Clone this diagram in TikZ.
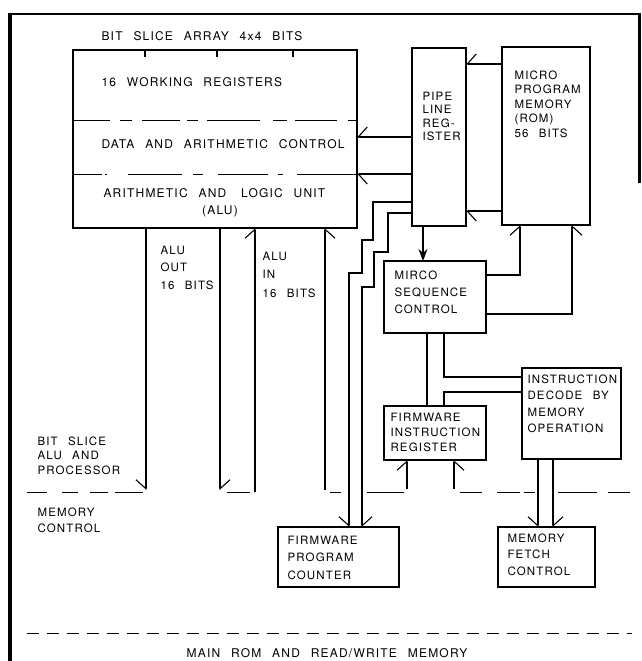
\documentclass[tikz,border=0pt]{standalone}
\usepackage{fontspec}
\setmainfont{TeX Gyre Heros}[LetterSpace=10,WordSpace=2.4]
\usetikzlibrary{arrows.meta}
\begin{document}
\begin{tikzpicture}[x=1pt,y=-1pt,line width=1.1pt,
  box/.style={draw,rectangle,inner sep=0pt,outer sep=0pt},
  lbl/.style={anchor=base west,inner sep=0pt,align=left,font=\fontsize{11.5}{#1}\selectfont},
  lbl/.default=14,
  big/.style={anchor=base west,inner sep=0pt,font=\fontsize{12}{14}\selectfont},
  bL/.style={-{Straight Barb[harpoon,length=9pt,width=20pt]}},
  bR/.style={-{Straight Barb[harpoon,swap,length=9pt,width=20pt]}},
  sep/.style={line width=1pt}
]
\fill[white] (0,0) rectangle (642,661);
\useasboundingbox (0,0) rectangle (642,661);

% boxes
\node[box,minimum width=284pt,minimum height=178pt] (alu) at (215,139) {};
\node[box,minimum width=54pt,minimum height=178pt] (pl) at (439,137) {};
\node[box,minimum width=88pt,minimum height=178pt] (mem) at (546,136) {};
\node[box,minimum width=102pt,minimum height=72pt] (ms) at (435,297) {};
\node[box,minimum width=99pt,minimum height=91pt] (id) at (571.5,413.5) {};
\node[box,minimum width=102pt,minimum height=54pt] (fir) at (435,433) {};
\node[box,minimum width=121pt,minimum height=60pt] (fpc) at (338.5,557) {};
\node[box,minimum width=97pt,minimum height=60pt] (mf) at (546.5,557) {};

% ticks and separators in ALU box
\foreach \x in {145,217,293} \draw (alu.north -| \x,0) -- ++(0,7);
\foreach \a/\b in {73/110,120/132,142/180,187/198,207/260,273/287,295/337,348/357}
  \draw[sep] (\a,120) -- (\b,120);
\foreach \a/\b in {73/102,105/107,128/182,193/203,218/268,278/283,297/357}
  \draw[sep] (\a,174) -- (\b,174);

% dashed boundaries
\foreach \a/\b in {27/47,62/78,90/108,115/143,227/250,330/341,367/404,460/482,497/520,524/535,558/597,608/630}
  \draw[sep] (\a,492) -- (\b,492);
\draw[sep,dash pattern=on 12pt off 8pt] (27,633) -- (632,633);

% connectors
\draw[bR] (mem.west |- 0,64) -- (pl.east |- 0,64);
\draw[bR] (pl.west |- 0,137) -- (alu.east |- 0,137);
\draw[bL] (pl.west |- 0,174) -- (alu.east |- 0,174);
\draw[bL] (mem.west |- 0,211) -- (pl.east |- 0,211);
\draw[-{Stealth[length=12pt,width=9pt]}] (pl.south -| 423,0) -- (ms.north -| 423,0);
\draw[bL] (ms.east |- 0,275) -| (mem.south -| 520,0);
\draw[bR] (ms.east |- 0,314) -| (mem.south -| 572,0);
\draw (ms.south -| 427,0) -- (fir.north -| 427,0);
\draw (ms.south -| 444,0) |- (id.west |- 0,377);
\draw (id.west |- 0,392) -| (fir.north -| 444,0);

\coordinate (o1) at (146,490);
\coordinate (o2) at (220,490);
\coordinate (i1) at (255,492);
\coordinate (i2) at (325,490);
\draw[bR] (alu.south -| o1) -- (o1);
\draw[bL] (alu.south -| o2) -- (o2);
\draw[bL] (i1) -- (alu.south -| i1);
\draw[bR] (i2) -- (alu.south -| i2);

\draw[bR] (pl.west |- 0,202) -- (373,202) -- (373,240) -- (362,240) -- (362,273) -- (349,273) -- (fpc.north -| 349,0);
\draw[bL] (pl.west |- 0,213) -- (388,213) -- (388,252) -- (374,252) -- (374,287) -- (362,287) -- (fpc.north -| 362,0);

\coordinate (f1) at (407,489);
\coordinate (f2) at (454,489);
\draw[bL] (f1) -- (fir.south -| f1);
\draw[bR] (f2) -- (fir.south -| f2);
\draw[bR] (id.south -| 538,0) -- (mf.north -| 538,0);
\draw[bL] (id.south -| 553,0) -- (mf.north -| 553,0);

% labels (multi-line nodes: base = baseline of last line)
\node[big] (tA) at (101,41) {BIT SLICE ARRAY 4x4 BITS};
\node[big] (tB) at (101,86) {16 WORKING REGISTERS};
\node[big] (tC) at (101,148) {DATA AND ARITHMETIC CONTROL};
\node[big] (tD) at (103,197) {ARITHMETIC AND\hspace{4pt} LOGIC UNIT};
\node[big,anchor=base] (tE) at (220,214) {(ALU)};
\node[lbl=13.5] (tF) at (422,140.5) {PIPE\\LINE\\REG-\\ISTER};
\node[lbl=14.5] (tG) at (514,137) {MICRO\\PROGRAM\\MEMORY\\(ROM)\\56 BITS};
\node[lbl=17] (tH) at (394,313) {MIRCO\\SEQUENCE\\CONTROL};
\node[lbl=17.5] (tI) at (160,289) {ALU\\OUT\\16 BITS};
\node[lbl=18.5] (tJ) at (262,297) {ALU\\IN\\16 BITS};
\node[lbl=14.5] (tK) at (37,474) {BIT SLICE\\ALU AND\\PROCESSOR};
\node[lbl=16] (tL) at (37,532) {MEMORY\\CONTROL};
\node[lbl=16.5] (tM) at (527,432.5) {INSTRUCTION\\DECODE BY\\MEMORY\\OPERATION};
\node[lbl=15] (tN) at (390,451) {FIRMWARE\\INSTRUCTION\\REGISTER};
\node[lbl=17.5] (tO) at (287,579) {FIRMWARE\\PROGRAM\\COUNTER};
\node[lbl=16.5] (tP) at (507,575) {MEMORY\\FETCH\\CONTROL};
\node[big,anchor=base] (tQ) at (327,657) {MAIN ROM AND READ/WRITE MEMORY};

% outer frame
\draw[line width=2.8pt,line cap=butt] (639.3,183) -- (639.3,14) -- (8,14);
\draw[line width=3.6pt,line cap=butt] (10,12.6) -- (10,661);
\end{tikzpicture}
\end{document}
